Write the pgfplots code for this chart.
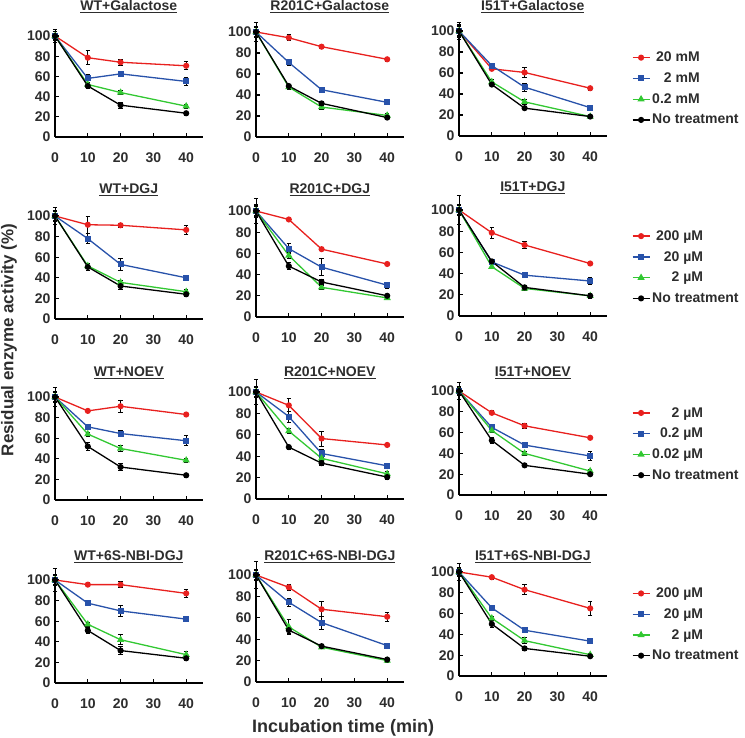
\documentclass[border=0pt]{standalone}
\usepackage{pgfplots}
\pgfplotsset{compat=1.18}
\usepackage{fontspec}
\setmainfont{Liberation Sans}
\definecolor{cR}{RGB}{232,32,30}
\definecolor{cB}{RGB}{40,82,170}
\definecolor{cG}{RGB}{50,200,50}
\definecolor{lab}{RGB}{45,45,45}
\newcommand{\fs}{\fontsize{14}{16}\selectfont\bfseries}
\pgfplotsset{
  panel/.style={scale only axis, width=147.6pt, xmin=0, xmax=45, ymin=0, ymax=100, clip=false,
    axis x line=bottom, axis y line=left, axis line style={line width=1.6pt,-},
    xtick={0,10,20,30,40}, ytick={0,20,40,60,80,100}, tick align=inside, major tick length=4pt,
    tick style={line width=1.3pt, black},
    ticklabel style={font=\fs, text=lab}, /pgf/number format/assume math mode=true,
    xticklabel style={yshift=-12pt}, yticklabel style={xshift=-1pt},
    title style={at={(0.5,1)}, anchor=center, yshift=18pt, font=\fs, text=lab},
    legend style={draw=none, fill=none, font=\fs, text=lab, anchor=west, row sep=5.5pt,
      /tikz/every even column/.append style={column sep=5pt}},
    legend cell align=left,
  },
  tsh/.style={title style={yshift=#1}},
  eb/.style={error bars/y dir=both, error bars/y explicit,
    error bars/error bar style={black, line width=0.9pt},
    error bars/error mark options={black, rotate=90, mark size=2.2pt, line width=0.9pt}},
  lR/.style={cR, line width=1.3pt, mark=*, mark size=2.4pt, mark options={solid, fill=cR}},
  lB/.style={cB, line width=1.3pt, mark=square*, mark size=2.4pt, mark options={solid, fill=cB}},
  lG/.style={cG, line width=1.3pt, mark=triangle*, mark size=2.9pt, mark options={solid, fill=cG}},
  lK/.style={black, line width=1.3pt, mark=*, mark size=2.4pt, mark options={solid, fill=black}},
  sR/.style={lR, eb}, sB/.style={lB, eb}, sG/.style={lG, eb}, sK/.style={lK, eb},
  leg/.style={legend image code/.code={%
      \draw[##1, mark=none] (0pt,0pt) -- (17pt,0pt);
      \draw[##1, only marks] plot coordinates {(8.5pt,0pt)};}},
}
\newcommand{\legimgs}{%
  \addlegendimage{lR, leg}\addlegendimage{lB, leg}\addlegendimage{lG, leg}\addlegendimage{lK, leg}}
\begin{document}
\begin{tikzpicture}
\path[use as bounding box] (0,0) rectangle (745pt,738pt);
% ---------- Row 1 ----------
\begin{axis}[panel, at={(55pt,601pt)}, anchor=south west, height=101pt, tsh=5pt, title={\underline{WT+Galactose}}]
\addplot[sR] coordinates {(0,100) +- (0,4) (10,78.5) +- (0,7) (20,74) +- (0,3) (40,70.5) +- (0,4)};
\addplot[sB] coordinates {(0,100) +- (0,4) (10,58) +- (0,4) (20,62.5) +- (0,2) (40,55) +- (0,4)};
\addplot[sG] coordinates {(0,100) +- (0,3) (10,52) +- (0,2) (20,44) +- (0,2) (40,30.5) +- (0,2)};
\addplot[sK] coordinates {(0,100) +- (0,6) (10,50.5) +- (0,2) (20,31.5) +- (0,3) (40,23.5) +- (0,2)};
\end{axis}
\begin{axis}[panel, at={(256pt,601pt)}, anchor=south west, height=105pt, tsh=1pt, title={\underline{R201C+Galactose}}]
\addplot[sR] coordinates {(0,100) +- (0,5) (10,94.5) +- (0,3) (20,86) +- (0,1.5) (40,74) +- (0,2)};
\addplot[sB] coordinates {(0,100) +- (0,5) (10,71) +- (0,2.5) (20,45) +- (0,2) (40,33) +- (0,2)};
\addplot[sG] coordinates {(0,100) +- (0,4) (10,47.5) +- (0,2) (20,28.5) +- (0,2) (40,20.5) +- (0,1.5)};
\addplot[sK] coordinates {(0,100) +- (0,9) (10,48.5) +- (0,2) (20,32) +- (0,2) (40,18.5) +- (0,1.5)};
\end{axis}
\begin{axis}[panel, at={(459pt,602pt)}, anchor=south west, height=105pt, title={\underline{I51T+Galactose}},
  legend style={at={(1.15,0.45)}}]
\legimgs
\addplot[sR, forget plot] coordinates {(0,100) +- (0,6) (10,64) +- (0,2) (20,60.5) +- (0,5) (40,45.5) +- (0,2)};
\addplot[sB, forget plot] coordinates {(0,100) +- (0,5) (10,67) +- (0,2) (20,46.5) +- (0,4) (40,27) +- (0,1.5)};
\addplot[sG, forget plot] coordinates {(0,100) +- (0,4) (10,51.5) +- (0,2) (20,32.5) +- (0,2) (40,18.5) +- (0,1)};
\addplot[sK, forget plot] coordinates {(0,100) +- (0,8) (10,49) +- (0,2) (20,26.5) +- (0,1.5) (40,18.5) +- (0,1.5)};
\legend{\hphantom{.}20 mM, \hphantom{0.}2 mM, 0.2 mM, No treatment}
\end{axis}
% ---------- Row 2 ----------
\begin{axis}[panel, at={(55pt,419pt)}, anchor=south west, height=103pt, tsh=2pt, title={\underline{WT+DGJ}}]
\addplot[sR] coordinates {(0,100) +- (0,5) (10,91.5) +- (0,8) (20,91) +- (0,2) (40,86.5) +- (0,4)};
\addplot[sB] coordinates {(0,100) +- (0,5) (10,78) +- (0,5) (20,53) +- (0,6) (40,40) +- (0,2)};
\addplot[sG] coordinates {(0,100) +- (0,4) (10,51.5) +- (0,2) (20,35.5) +- (0,2) (40,26.5) +- (0,2)};
\addplot[sK] coordinates {(0,100) +- (0,8) (10,50.5) +- (0,3) (20,32) +- (0,3) (40,24) +- (0,2)};
\end{axis}
\begin{axis}[panel, at={(256pt,421pt)}, anchor=south west, height=106pt, tsh=-3pt, title={\underline{R201C+DGJ}}]
\addplot[sR] coordinates {(0,100) +- (0,4) (10,92) +- (0,1.5) (20,64) +- (0,1.5) (40,50) +- (0,1.5)};
\addplot[sB] coordinates {(0,100) +- (0,6) (10,64.5) +- (0,5) (20,47) +- (0,8) (40,30) +- (0,3)};
\addplot[sG] coordinates {(0,100) +- (0,5) (10,58) +- (0,3) (20,28) +- (0,2) (40,18) +- (0,1.5)};
\addplot[sK] coordinates {(0,100) +- (0,12) (10,48) +- (0,3) (20,33) +- (0,2) (40,20) +- (0,1.5)};
\end{axis}
\begin{axis}[panel, at={(459pt,422pt)}, anchor=south west, height=106pt, tsh=-2pt, title={\underline{I51T+DGJ}},
  legend style={at={(1.15,0.46)}}]
\legimgs
\addplot[sR, forget plot] coordinates {(0,100) +- (0,5) (10,78.5) +- (0,5) (20,67) +- (0,3) (40,49.5) +- (0,1.5)};
\addplot[sB, forget plot] coordinates {(0,100) +- (0,5) (10,51) +- (0,2) (20,38.5) +- (0,2) (40,33) +- (0,3)};
\addplot[sG, forget plot] coordinates {(0,100) +- (0,4) (10,46.5) +- (0,2) (20,26) +- (0,1.5) (40,19) +- (0,1.5)};
\addplot[sK, forget plot] coordinates {(0,100) +- (0,14) (10,51.5) +- (0,2) (20,27) +- (0,1.5) (40,19) +- (0,2)};
\legend{\hphantom{.}200 µM, \hphantom{.0}20 µM, \hphantom{.00}2 µM, No treatment}
\end{axis}
% ---------- Row 3 ----------
\begin{axis}[panel, at={(55pt,238pt)}, anchor=south west, height=103pt, title={\underline{WT+NOEV}}]
\addplot[sR] coordinates {(0,100) +- (0,5) (10,86.5) +- (0,1.5) (20,91) +- (0,6) (40,83) +- (0,2)};
\addplot[sB] coordinates {(0,100) +- (0,5) (10,71) +- (0,2) (20,64.5) +- (0,3) (40,57.5) +- (0,5)};
\addplot[sG] coordinates {(0,100) +- (0,4) (10,64) +- (0,2) (20,50) +- (0,3) (40,38.5) +- (0,2)};
\addplot[sK] coordinates {(0,100) +- (0,9) (10,52) +- (0,4) (20,32) +- (0,3) (40,24) +- (0,2)};
\end{axis}
\begin{axis}[panel, at={(256pt,239pt)}, anchor=south west, height=107pt, tsh=-5pt, title={\underline{R201C+NOEV}}]
\addplot[sR] coordinates {(0,100) +- (0,5) (10,87.5) +- (0,6) (20,56.5) +- (0,7) (40,50.5) +- (0,1.5)};
\addplot[sB] coordinates {(0,100) +- (0,5) (10,77) +- (0,5) (20,42.5) +- (0,4) (40,31) +- (0,2)};
\addplot[sG] coordinates {(0,100) +- (0,4) (10,63.5) +- (0,2) (20,38) +- (0,2) (40,23.5) +- (0,2)};
\addplot[sK] coordinates {(0,100) +- (0,12) (10,48.5) +- (0,2) (20,33.5) +- (0,2) (40,20.5) +- (0,2)};
\end{axis}
\begin{axis}[panel, at={(459pt,243pt)}, anchor=south west, height=104pt, tsh=-6pt, title={\underline{I51T+NOEV}},
  legend style={at={(1.15,0.49)}}]
\legimgs
\addplot[sR, forget plot] coordinates {(0,100) +- (0,4) (10,79) +- (0,2) (20,66.5) +- (0,2.5) (40,55) +- (0,1.5)};
\addplot[sB, forget plot] coordinates {(0,100) +- (0,4) (10,65) +- (0,3) (20,48) +- (0,2) (40,37.5) +- (0,4)};
\addplot[sG, forget plot] coordinates {(0,100) +- (0,3) (10,62) +- (0,2) (20,40) +- (0,2) (40,23) +- (0,2)};
\addplot[sK, forget plot] coordinates {(0,100) +- (0,8) (10,52.5) +- (0,3) (20,28.5) +- (0,1.5) (40,20) +- (0,1.5)};
\legend{\hphantom{0.0}2 µM, \hphantom{0}0.2 µM, 0.02 µM, No treatment}
\end{axis}
% ---------- Row 4 ----------
\begin{axis}[panel, at={(55pt,55pt)}, anchor=south west, height=103pt, tsh=-1pt, title={\underline{WT+6S-NBI-DGJ}}]
\addplot[sR] coordinates {(0,100) +- (0,4) (10,95.5) +- (0,2) (20,95.5) +- (0,3) (40,87) +- (0,4)};
\addplot[sB] coordinates {(0,100) +- (0,5) (10,77.5) +- (0,2) (20,70) +- (0,5) (40,62) +- (0,1.5)};
\addplot[sG] coordinates {(0,100) +- (0,5) (10,57) +- (0,2) (20,42) +- (0,5) (40,27.5) +- (0,3)};
\addplot[sK] coordinates {(0,100) +- (0,11) (10,51) +- (0,3) (20,31.5) +- (0,4) (40,24) +- (0,2)};
\end{axis}
\begin{axis}[panel, at={(256pt,56pt)}, anchor=south west, height=107pt, tsh=-6pt, title={\underline{R201C+6S-NBI-DGJ}}]
\addplot[sR] coordinates {(0,100) +- (0,4) (10,88.5) +- (0,3) (20,68) +- (0,7) (40,61) +- (0,4)};
\addplot[sB] coordinates {(0,100) +- (0,5) (10,74.5) +- (0,4) (20,55.5) +- (0,6) (40,34) +- (0,1.5)};
\addplot[sG] coordinates {(0,100) +- (0,5) (10,51.5) +- (0,7) (20,32.5) +- (0,1.5) (40,20) +- (0,1.5)};
\addplot[sK] coordinates {(0,100) +- (0,13) (10,48.5) +- (0,3) (20,33.5) +- (0,1.5) (40,21) +- (0,1.5)};
\end{axis}
\begin{axis}[panel, at={(459pt,62pt)}, anchor=south west, height=104pt, tsh=-9pt, title={\underline{I51T+6S-NBI-DGJ}},
  legend style={at={(1.15,0.495)}}]
\legimgs
\addplot[sR, forget plot] coordinates {(0,100) +- (0,3) (10,95) +- (0,2) (20,83) +- (0,5) (40,65) +- (0,7)};
\addplot[sB, forget plot] coordinates {(0,100) +- (0,4) (10,65.5) +- (0,2) (20,44) +- (0,2) (40,33.5) +- (0,2)};
\addplot[sG, forget plot] coordinates {(0,100) +- (0,4) (10,55.5) +- (0,2) (20,34) +- (0,3) (40,20.5) +- (0,1.5)};
\addplot[sK, forget plot] coordinates {(0,100) +- (0,8) (10,50) +- (0,3) (20,26.5) +- (0,1.5) (40,19) +- (0,1.5)};
\legend{\hphantom{.}200 µM, \hphantom{.0}20 µM, \hphantom{.00}2 µM, No treatment}
\end{axis}
% ---------- Axis labels ----------
\node[rotate=90, font=\fontsize{17}{20}\selectfont\bfseries, text=lab] at (9pt,398pt) {Residual enzyme activity (\%)};
\node[font=\fontsize{18}{20}\selectfont\bfseries, text=lab] at (343pt,10pt) {Incubation time (min)};
\end{tikzpicture}
\end{document}
